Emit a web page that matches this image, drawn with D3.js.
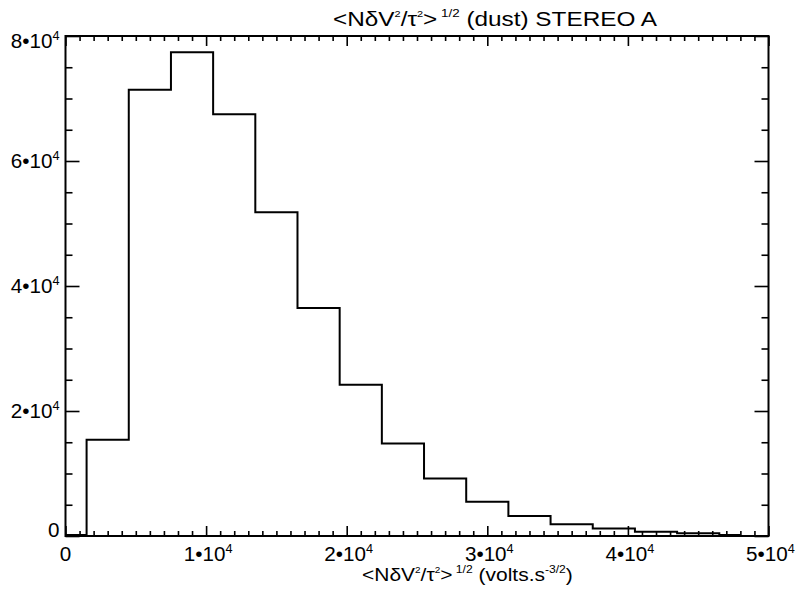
<!DOCTYPE html>
<html>
<head>
<meta charset="utf-8">
<script src="https://cdn.jsdelivr.net/npm/d3@7"></script>
<style>
  html, body { margin: 0; padding: 0; background: #fff; }
  text { font-family: "Liberation Sans", Arial, Helvetica, sans-serif; fill: #000; }
</style>
</head>
<body>
<svg id="chart" width="795" height="590"></svg>
<script>
// ---- data ----
const binCenters = [0, 3000, 6000, 9000, 12000, 15000, 18000, 21000, 24000, 27000, 30000, 33000, 36000, 39000, 42000, 45000, 48000];
const counts = [150, 15400, 71400, 77400, 67500, 51800, 36500, 24200, 14800, 9200, 5500, 3200, 1900, 1200, 700, 430, 150];
const binWidth = 3000;
const xMajorTicks = [0, 10000, 20000, 30000, 40000, 50000];
const xTickLabels = [["0", ""], ["1\u202210", "4"], ["2\u202210", "4"], ["3\u202210", "4"], ["4\u202210", "4"], ["5\u202210", "4"]];
const yMajorTicks = [0, 20000, 40000, 60000, 80000];
const yTickLabels = [["0", ""], ["2\u202210", "4"], ["4\u202210", "4"], ["6\u202210", "4"], ["8\u202210", "4"]];

// ---- layout ----
const L = 65.5, R = 768.5, T = 36, B = 536;
const svg = d3.select("#chart");
const x = d3.scaleLinear().domain([0, 50000]).range([L, R]);
const y = d3.scaleLinear().domain([0, 80000]).range([B, T]);

const xMinor = d3.range(0, 50001, 1000).filter(v => v % 10000 !== 0);
const yMinor = d3.range(0, 80001, 5000).filter(v => v % 20000 !== 0);

function styleAxis(g) {
  g.select(".domain").remove();
  g.selectAll("line").attr("stroke", "#000").attr("stroke-width", 1.6);
}
// bottom
svg.append("g").attr("transform", `translate(0,${B})`)
  .call(d3.axisBottom(x).tickValues(xMajorTicks).tickSize(-10).tickFormat("")).call(styleAxis);
svg.append("g").attr("transform", `translate(0,${B})`)
  .call(d3.axisBottom(x).tickValues(xMinor).tickSize(-5).tickFormat("")).call(styleAxis);
// top
svg.append("g").attr("transform", `translate(0,${T})`)
  .call(d3.axisTop(x).tickValues(xMajorTicks).tickSize(-10).tickFormat("")).call(styleAxis);
svg.append("g").attr("transform", `translate(0,${T})`)
  .call(d3.axisTop(x).tickValues(xMinor).tickSize(-5).tickFormat("")).call(styleAxis);
// left
svg.append("g").attr("transform", `translate(${L},0)`)
  .call(d3.axisLeft(y).tickValues(yMajorTicks).tickSize(-14).tickFormat("")).call(styleAxis);
svg.append("g").attr("transform", `translate(${L},0)`)
  .call(d3.axisLeft(y).tickValues(yMinor).tickSize(-7).tickFormat("")).call(styleAxis);
// right
svg.append("g").attr("transform", `translate(${R},0)`)
  .call(d3.axisRight(y).tickValues(yMajorTicks).tickSize(-14).tickFormat("")).call(styleAxis);
svg.append("g").attr("transform", `translate(${R},0)`)
  .call(d3.axisRight(y).tickValues(yMinor).tickSize(-7).tickFormat("")).call(styleAxis);

// frame
svg.append("rect").attr("x", L).attr("y", T).attr("width", R - L).attr("height", B - T)
  .attr("fill", "none").attr("stroke", "#000").attr("stroke-width", 2);

// scaled text helper
function scaledText(px, py, sx, anchor, size) {
  const g = svg.append("g").attr("transform", `translate(${px},${py}) scale(${sx},1)`);
  return g.append("text").attr("x", 0).attr("y", 0).attr("text-anchor", anchor).attr("font-size", size);
}
function fitWidth(textSel, target) {
  const w = textSel.node().getBBox().width;
  const g = d3.select(textSel.node().parentNode);
  const tr = g.attr("transform").replace(/scale\([^)]*\)/, `scale(${target / w},1)`);
  g.attr("transform", tr);
}

// tick labels
const fs = 19.5, tsx = 1.06;
xMajorTicks.forEach((v, i) => {
  const hasSup = !!xTickLabels[i][1];
  const t = scaledText(x(v) + (hasSup ? 2 : 0), B + 25, tsx, "middle", fs);
  t.append("tspan").text(xTickLabels[i][0]);
  if (hasSup) t.append("tspan").attr("dy", -8).attr("font-size", 12).text(xTickLabels[i][1]);
});
yMajorTicks.forEach((v, i) => {
  const by = Math.min(Math.max(y(v) + 7, T + 12), B + 1);
  const t = scaledText(L - 6, by, tsx, "end", fs);
  t.append("tspan").text(yTickLabels[i][0]);
  if (yTickLabels[i][1]) t.append("tspan").attr("dy", -8).attr("font-size", 12).text(yTickLabels[i][1]);
});

// histogram (psym=10 style step)
const pts = [];
binCenters.forEach((c, i) => {
  const x0 = Math.max(c - binWidth / 2, 0);
  const x1 = Math.min(c + binWidth / 2, binCenters[binCenters.length - 1]);
  pts.push([x0, counts[i]], [x1, counts[i]]);
});
svg.append("path").datum(pts)
  .attr("d", d3.line().x(d => x(d[0])).y(d => y(d[1])))
  .attr("fill", "none").attr("stroke", "#000").attr("stroke-width", 2);

// title & axis label
function mathLabel(sel, parts) {
  parts.forEach(p => {
    const ts = sel.append("tspan").text(p.t);
    if (p.sup) ts.attr("font-size", p.size).attr("dy", p.dy);
    else if (p.dy) ts.attr("dy", p.dy);
  });
}
const title = scaledText(333, 26, 1, "start", 20);
mathLabel(title, [
  {t: "<N\u03b4V"}, {t: "2", sup: true, size: 9, dy: -9}, {t: "/\u03c4", dy: 9},
  {t: "2", sup: true, size: 9, dy: -9}, {t: ">", dy: 9},
  {t: " 1/2", sup: true, size: 11, dy: -9}, {t: " (dust) STEREO A", dy: 9}
]);
fitWidth(title, 325);

const xlab = scaledText(362, 581, 1, "start", 19);
mathLabel(xlab, [
  {t: "<N\u03b4V"}, {t: "2", sup: true, size: 9, dy: -8}, {t: "/\u03c4", dy: 8},
  {t: "2", sup: true, size: 9, dy: -8}, {t: ">", dy: 8},
  {t: " 1/2", sup: true, size: 11, dy: -8}, {t: " (volts.s", dy: 8},
  {t: "-3/2", sup: true, size: 11, dy: -8}, {t: ")", dy: 8}
]);
fitWidth(xlab, 211);
</script>
</body>
</html>
